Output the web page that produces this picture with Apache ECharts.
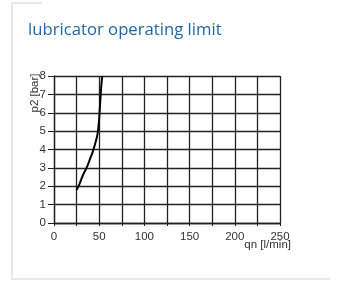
<!DOCTYPE html>
<html><head><meta charset="utf-8">
<script src="https://cdn.jsdelivr.net/npm/echarts@6/dist/echarts.min.js"></script>
<style>html,body{margin:0;padding:0;background:#fff}#c{width:359px;height:281px}</style>
</head><body><div id="c"></div>
<script>
const flow = [25, 28, 32, 36, 40, 43, 46, 48, 49.3, 50.4, 51.4, 52.4, 53.3];
const pressure = [1.8, 2.1, 2.6, 3.0, 3.5, 3.9, 4.4, 4.8, 5.3, 6.0, 6.8, 7.5, 8];
const xTickLabels = ['0', '50', '100', '150', '200', '250'];
const yTickLabels = ['0', '1', '2', '3', '4', '5', '6', '7', '8'];
const titleText = 'lubricator operating limit';
const xName = 'qn [l/min]';
const yName = 'p2 [bar]';

const chart = echarts.init(document.getElementById('c'));
const lblFont = {fontFamily: 'Liberation Sans', fontSize: 11.5, color: '#333'};
chart.setOption({
  animation: false,
  title: {text: titleText, left: 23, top: 17, textStyle: {fontFamily: 'Open Sans', fontSize: 16.7, fontWeight: 'normal', color: '#1f68a8'}},
  grid: {left: 54, right: 79, top: 76, bottom: 58},
  xAxis: {
    type: 'value', min: 0, max: 250, interval: 25,
    axisLine: {lineStyle: {color: '#222', width: 1.3}},
    axisTick: {show: true, length: 3, lineStyle: {color: '#222'}},
    axisLabel: Object.assign({margin: 8, formatter: v => (v % 50 === 0 ? xTickLabels[v / 50] : '')}, lblFont),
    splitLine: {show: true, lineStyle: {color: '#222', width: 1.3}}
  },
  yAxis: {
    type: 'value', min: 0, max: 8, interval: 1,
    axisLine: {show: true, lineStyle: {color: '#222', width: 1.3}},
    axisTick: {show: true, length: 6, lineStyle: {color: '#222'}},
    axisLabel: Object.assign({margin: 8, formatter: v => yTickLabels[v]}, lblFont),
    splitLine: {show: true, lineStyle: {color: '#222', width: 1.3}}
  },
  series: [{
    type: 'line', smooth: 0.5, symbol: 'none',
    data: flow.map((q, i) => [q, pressure[i]]),
    lineStyle: {color: '#000', width: 2}
  }],
  graphic: [
    {type: 'polyline', shape: {points: [[42, 3], [12, 3], [12, 279], [330, 279]]}, style: {stroke: '#e8e8e8', lineWidth: 2, fill: null}},
    {type: 'text', x: 35, y: 93, rotation: Math.PI / 2, style: {text: yName, fontFamily: 'Liberation Sans', fontSize: 11.5, fill: '#333', textAlign: 'center', textVerticalAlign: 'middle'}},
    {type: 'text', x: 291, y: 245, style: {text: xName, fontFamily: 'Liberation Sans', fontSize: 11.5, fill: '#333', textAlign: 'right', textVerticalAlign: 'middle'}}
  ]
});
</script></body></html>
